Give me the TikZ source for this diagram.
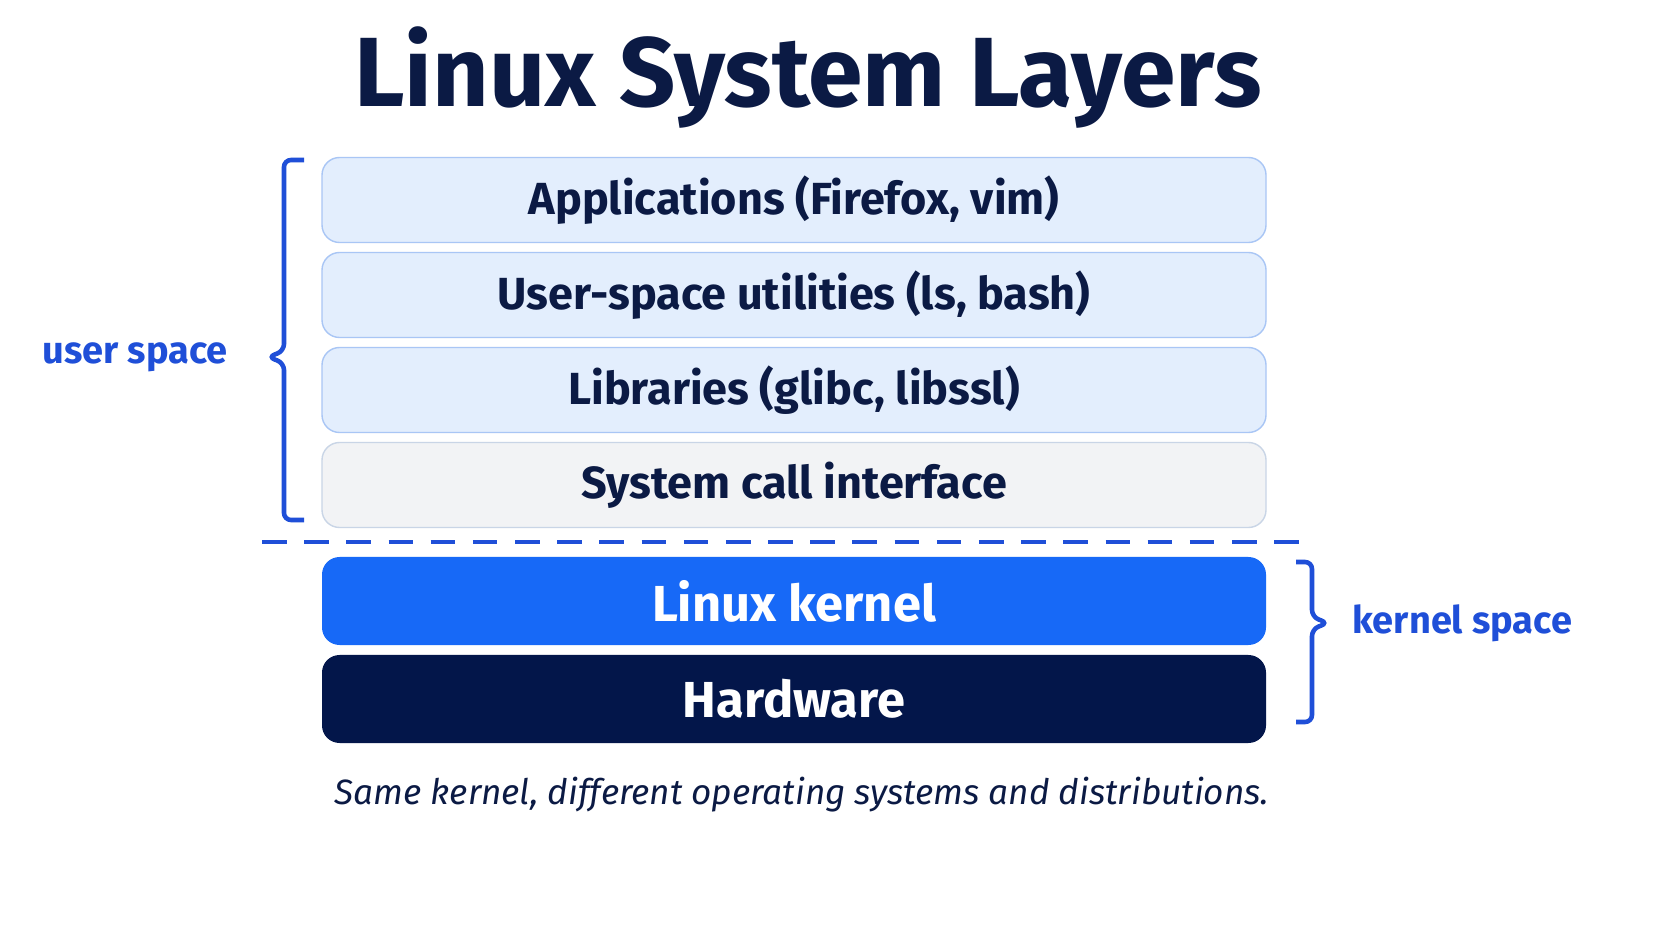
\documentclass[tikz,border=0pt]{standalone}
\usepackage{fontspec}
\setmainfont{Fira Sans}
\usetikzlibrary{positioning}
\definecolor{navy}{HTML}{0B1A44}
\definecolor{layerfill}{HTML}{E3EEFD}
\definecolor{layerline}{HTML}{A9C6F5}
\definecolor{callfill}{HTML}{F2F3F5}
\definecolor{callline}{HTML}{C9D5E6}
\definecolor{kernelblue}{HTML}{1769F7}
\definecolor{hwnavy}{HTML}{03164A}
\definecolor{spaceblue}{HTML}{1F4FD8}
\tikzset{
  layer/.style={rectangle, rounded corners=5pt, minimum width=9.44cm, minimum height=0.85cm, inner sep=0pt, font=\fontsize{12.8}{15}\selectfont\bfseries, text=navy},
  userlayer/.style={layer, draw=layerline, fill=layerfill},
  calllayer/.style={layer, draw=callline, fill=callfill},
  darklayer/.style={layer, minimum height=0.88cm, text=white, font=\fontsize{14.4}{17}\selectfont\bfseries},
  spacebrace/.style={draw=spaceblue, line width=1.3pt, rounded corners=2pt},
  spacelabel/.style={text=spaceblue, font=\fontsize{10.8}{13}\selectfont\bfseries}
}
\begin{document}
\begin{tikzpicture}
  \useasboundingbox[fill=white] (0,0) rectangle (16.72,9.41);
  % title
  \node[text=navy, font=\fontsize{28}{33}\selectfont\bfseries] (title) at (8.08,8.63) {Linux System Layers};
  % user space layers
  \node[userlayer] (apps) at (7.94,7.41) {Applications (Firefox, vim)};
  \node[userlayer] (utils) at (7.94,6.46) {User-space utilities (ls, bash)};
  \node[userlayer] (libs) at (7.94,5.51) {Libraries (glibc, libssl)};
  \node[calllayer] (syscall) at (7.94,4.56) {System call interface};
  % kernel space layers
  \node[darklayer, fill=kernelblue] (kernel) at (7.94,3.40) {Linux kernel};
  \node[darklayer, fill=hwnavy] (hw) at (7.94,2.42) {Hardware};
  % boundary
  \coordinate (sepL) at (2.62,3.99);
  \coordinate (sepR) at (13.10,3.99);
  \draw[spaceblue, line width=1.3pt, dash pattern=on 7pt off 5pt] (sepL) -- (sepR);
  % braces
  \draw[spacebrace] (3.04,7.81) -- (2.84,7.81) -- (2.84,5.90) -- (2.68,5.84) -- (2.84,5.78) -- (2.84,4.21) -- (3.04,4.21);
  \node[spacelabel, anchor=east] (user) at (2.40,5.84) {user space};
  \draw[spacebrace] (12.96,3.79) -- (13.12,3.79) -- (13.12,3.24) -- (13.28,3.18) -- (13.12,3.12) -- (13.12,2.19) -- (12.96,2.19);
  \node[spacelabel, anchor=west] (kspace) at (13.40,3.18) {kernel space};
  % caption
  \node[text=navy, font=\fontsize{10}{12}\selectfont\itshape] (caption) at (8.02,1.46) {Same kernel, different operating systems and distributions.};
\end{tikzpicture}
\end{document}
